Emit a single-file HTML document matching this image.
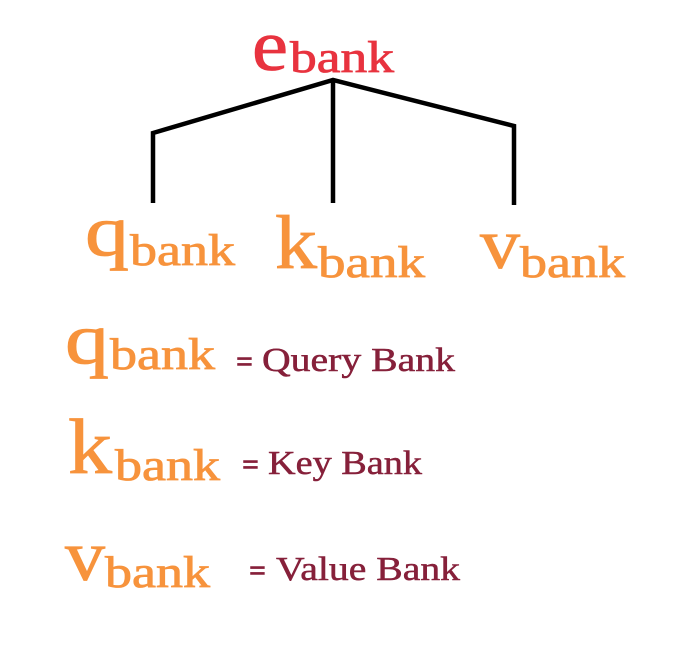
<!DOCTYPE html>
<html><head><meta charset="utf-8"><style>
html,body{margin:0;padding:0;background:#fff;}
svg{display:block}
text{font-family:"Liberation Serif",serif;}
.o{fill:#f7933c;stroke:#f7933c;stroke-width:0.8}
.r{fill:#e8333f;stroke:#e8333f;stroke-width:0.8}
.d{fill:#86203a;stroke:#86203a;stroke-width:0.5}
</style></head><body>
<svg width="688" height="652" viewBox="0 0 688 652" xmlns="http://www.w3.org/2000/svg">
<g stroke="#000" stroke-width="4.5" fill="none">
<polyline points="153,203 153,133 333,80 514,126 514,205"/>
<line x1="333" y1="80" x2="333" y2="203"/>
</g>
<text class="r" x="252" y="70" font-size="72" textLength="36" lengthAdjust="spacingAndGlyphs">e</text>
<text class="r" x="290" y="72" font-size="44" textLength="104" lengthAdjust="spacingAndGlyphs">bank</text>

<text class="o" x="85" y="255" font-size="72" textLength="44" lengthAdjust="spacingAndGlyphs">q</text>
<text class="o" x="130" y="265" font-size="44" textLength="105" lengthAdjust="spacingAndGlyphs">bank</text>
<text class="o" x="275" y="268" font-size="76" textLength="42" lengthAdjust="spacingAndGlyphs">k</text>
<text class="o" x="318" y="277" font-size="44" textLength="107" lengthAdjust="spacingAndGlyphs">bank</text>
<text class="o" x="480" y="268" font-size="72" textLength="40" lengthAdjust="spacingAndGlyphs">v</text>
<text class="o" x="520" y="277" font-size="44" textLength="105" lengthAdjust="spacingAndGlyphs">bank</text>

<text class="o" x="65" y="363" font-size="72" textLength="44" lengthAdjust="spacingAndGlyphs">q</text>
<text class="o" x="110" y="369" font-size="44" textLength="105" lengthAdjust="spacingAndGlyphs">bank</text>
<text class="d" x="236" y="371" font-size="30" font-weight="bold">=</text>
<text class="d" x="262" y="371" font-size="34" textLength="193" lengthAdjust="spacingAndGlyphs">Query Bank</text>

<text class="o" x="68" y="473" font-size="78" textLength="44" lengthAdjust="spacingAndGlyphs">k</text>
<text class="o" x="115" y="480" font-size="44" textLength="105" lengthAdjust="spacingAndGlyphs">bank</text>
<text class="d" x="242" y="474" font-size="30" font-weight="bold">=</text>
<text class="d" x="268" y="474" font-size="34" textLength="154" lengthAdjust="spacingAndGlyphs">Key Bank</text>

<text class="o" x="65" y="580" font-size="72" textLength="40" lengthAdjust="spacingAndGlyphs">v</text>
<text class="o" x="105" y="587" font-size="44" textLength="105" lengthAdjust="spacingAndGlyphs">bank</text>
<text class="d" x="249" y="580" font-size="30" font-weight="bold">=</text>
<text class="d" x="276" y="580" font-size="34" textLength="184" lengthAdjust="spacingAndGlyphs">Value Bank</text>
</svg>
</body></html>
